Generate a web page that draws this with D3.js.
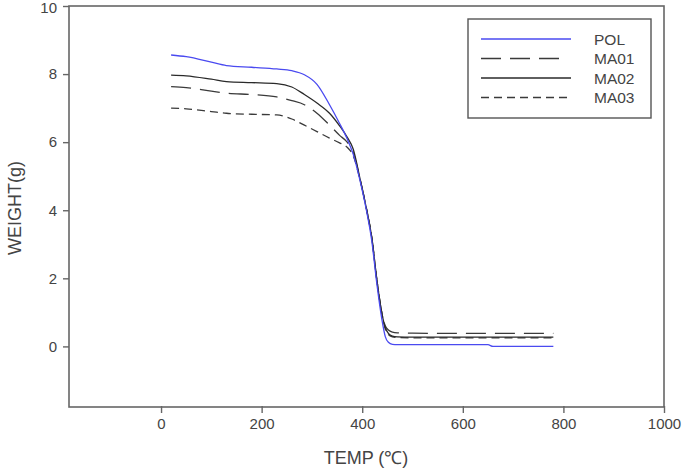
<!DOCTYPE html>
<html>
<head>
<meta charset="utf-8">
<script src="https://cdn.jsdelivr.net/npm/d3@7"></script>
<style>
  body { margin: 0; background: #fff; }
  text { font-family: "Liberation Sans", Arial, sans-serif; fill: #444; }
</style>
</head>
<body>
<div id="chart"></div>
<script>
// temperature samples (deg C) shared by all curves
var temps = [20, 50, 100, 130, 180, 230, 260, 285, 310, 335, 355, 370, 382, 396, 409, 419, 429, 439, 446, 452, 460, 470, 500, 600, 650, 660, 700, 780];

var pol  = [8.56, 8.51, 8.35, 8.25, 8.20, 8.15, 8.10, 7.98, 7.70, 7.10, 6.55, 6.10, 5.65, 4.85, 3.95, 3.10, 1.85, 0.80, 0.28, 0.12, 0.06, 0.05, 0.05, 0.05, 0.05, 0.00, 0.00, 0.00];
var ma01 = [7.63, 7.60, 7.50, 7.44, 7.40, 7.33, 7.22, 7.10, 6.85, 6.50, 6.20, 6.00, 5.70, 4.90, 4.00, 3.20, 1.96, 0.98, 0.60, 0.48, 0.42, 0.40, 0.39, 0.38, 0.38, 0.38, 0.38, 0.38];
var ma02 = [7.97, 7.95, 7.85, 7.78, 7.75, 7.72, 7.62, 7.40, 7.15, 6.85, 6.48, 6.15, 5.80, 4.90, 4.00, 3.20, 1.96, 0.98, 0.55, 0.38, 0.30, 0.28, 0.27, 0.27, 0.27, 0.27, 0.27, 0.27];
var ma03 = [7.00, 6.98, 6.90, 6.85, 6.82, 6.80, 6.68, 6.50, 6.31, 6.12, 5.98, 5.85, 5.60, 4.88, 4.00, 3.20, 1.96, 0.98, 0.50, 0.35, 0.28, 0.26, 0.25, 0.25, 0.25, 0.25, 0.25, 0.25];

var seriesNames = ["POL", "MA01", "MA02", "MA03"];
var xTicks = [0, 200, 400, 600, 800, 1000];
var yTicks = [0, 2, 4, 6, 8, 10];

function init() {
    var w = 685;
    var h = 468;
    var left = 69, right = 664, top = 6, bottom = 407;

    var xScale = d3.scaleLinear()
                   .domain([-183, 1000])
                   .range([left, right]);

    var yScale = d3.scaleLinear()
                   .domain([-1.78, 10])
                   .range([bottom, top]);

    var svg = d3.select("#chart")
                .append("svg")
                .attr("width", w)
                .attr("height", h);

    var styles = [
        { color: "#4a4af0", dash: null },
        { color: "#3a3a3a", dash: "20,9" },
        { color: "#2a2a2a", dash: null },
        { color: "#3a3a3a", dash: "8,5" }
    ];
    var values = [pol, ma01, ma02, ma03];

    var line = d3.line()
                 .x(function(d) { return xScale(d[0]); })
                 .y(function(d) { return yScale(d[1]); })
                 .curve(d3.curveMonotoneX);

    // draw black curves first, blue on top
    [1, 3, 2, 0].forEach(function(i) {
        var pts = temps.map(function(t, j) { return [t, values[i][j]]; });
        svg.append("path")
           .datum(pts)
           .attr("d", line)
           .attr("fill", "none")
           .attr("stroke", styles[i].color)
           .attr("stroke-width", 1.3)
           .attr("stroke-dasharray", styles[i].dash);
    });

    // frame
    svg.append("rect")
       .attr("x", left)
       .attr("y", top)
       .attr("width", right - left)
       .attr("height", bottom - top)
       .attr("fill", "none")
       .attr("stroke", "#666")
       .attr("stroke-width", 1.6);

    var xAxis = d3.axisBottom(xScale)
                  .tickValues(xTicks)
                  .tickFormat(d3.format("d"))
                  .tickSize(6)
                  .tickPadding(5);

    var yAxis = d3.axisLeft(yScale)
                  .tickValues(yTicks)
                  .tickFormat(d3.format("d"))
                  .tickSize(6)
                  .tickPadding(6);

    var gx = svg.append("g")
                .attr("transform", "translate(0," + bottom + ")")
                .call(xAxis);
    var gy = svg.append("g")
                .attr("transform", "translate(" + left + ",0)")
                .call(yAxis);

    [gx, gy].forEach(function(g) {
        g.select(".domain").remove();
        g.selectAll(".tick line").attr("stroke", "#666").attr("stroke-width", 1.4);
        g.selectAll(".tick text")
         .style("font-family", "'Liberation Sans', Arial, sans-serif")
         .style("font-size", "15px")
         .attr("fill", "#4a4a4a");
    });
    gx.selectAll(".tick line").attr("y1", -1).attr("y2", 6);
    // keep the top label inside the page
    gy.selectAll(".tick text")
      .filter(function(d) { return d === 10; })
      .attr("y", 1.5);

    // axis titles
    svg.append("text")
       .attr("x", 366)
       .attr("y", 464)
       .attr("text-anchor", "middle")
       .style("font-size", "18px")
       .text("TEMP (\u2103)");

    svg.append("text")
       .attr("transform", "translate(21,208) rotate(-90)")
       .attr("text-anchor", "middle")
       .style("font-size", "18px")
       .text("WEIGHT(g)");

    // legend
    var legend = svg.append("g");
    legend.append("rect")
          .attr("x", 468)
          .attr("y", 19)
          .attr("width", 183)
          .attr("height", 99)
          .attr("fill", "#fff")
          .attr("stroke", "#555")
          .attr("stroke-width", 1.4);

    seriesNames.forEach(function(name, i) {
        var yy = 39 + i * 19.5;
        legend.append("line")
              .attr("x1", 481)
              .attr("x2", i === 1 ? 566 : 571)
              .attr("y1", yy)
              .attr("y2", yy)
              .attr("stroke", styles[i].color)
              .attr("stroke-width", 1.3)
              .attr("stroke-dasharray", styles[i].dash);
        legend.append("text")
              .attr("x", 594)
              .attr("y", yy + 5.5)
              .style("font-size", "15.5px")
              .text(name);
    });
}

window.onload = init;
</script>
</body>
</html>
